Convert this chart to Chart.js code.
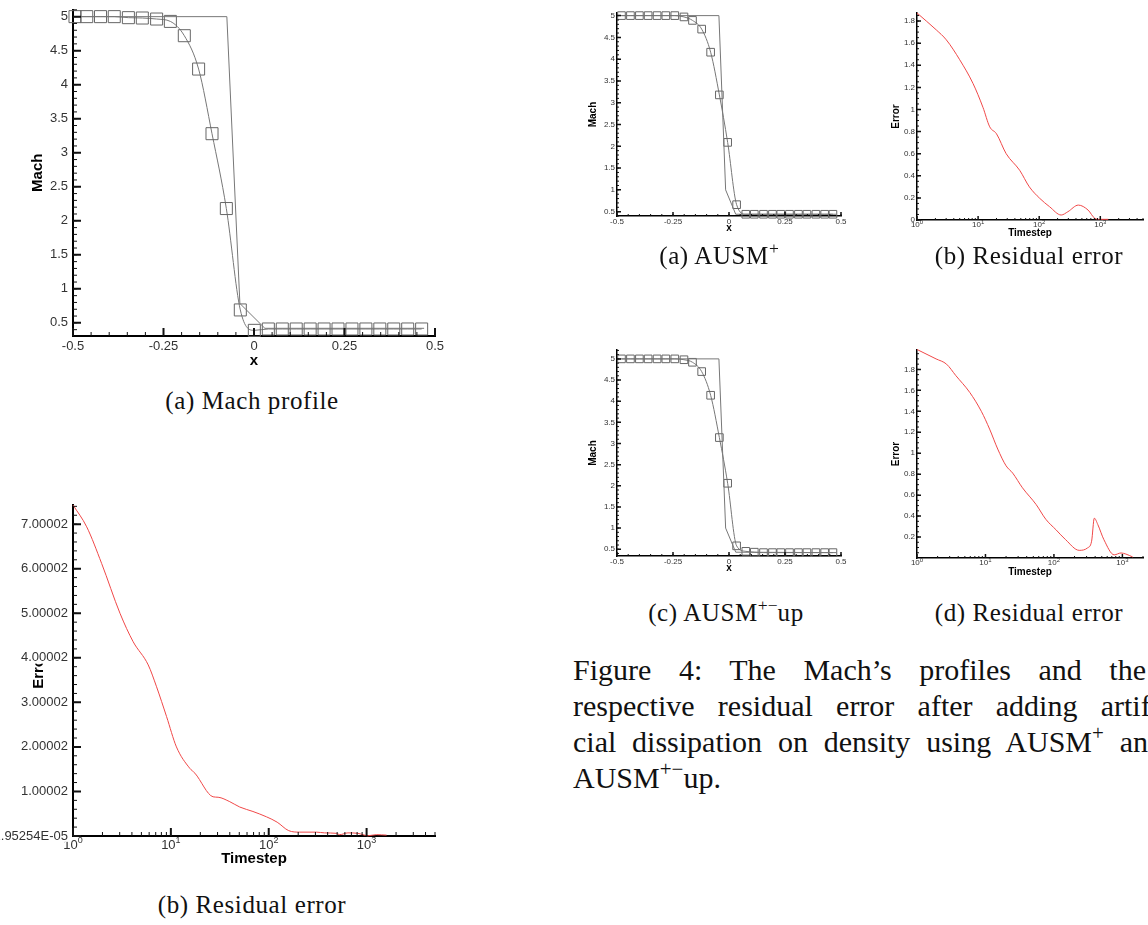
<!DOCTYPE html>
<html>
<head>
<meta charset="utf-8">
<script src="https://cdn.jsdelivr.net/npm/chart.js@4.4.0/dist/chart.umd.min.js"></script>
<style>
  html, body { margin: 0; padding: 0; background: #fff; }
  body { width: 1148px; height: 925px; position: relative; overflow: hidden; }
  canvas { position: absolute; }
  .cap {
    position: absolute; transform: translateX(-50%);
    font-family: "Liberation Serif", "Times New Roman", serif;
    font-size: 25px; letter-spacing: 0.6px; line-height: 1;
    white-space: nowrap; color: #111;
  }
  .cap sup, .para sup { font-size: 70%; vertical-align: baseline; position: relative; top: -0.55em; letter-spacing: 0; }
  .para {
    position: absolute; left: 573px;
    font-family: "Liberation Serif", "Times New Roman", serif;
    font-size: 30px; line-height: 1; color: #111;
    text-align: justify; text-align-last: justify;
  }
</style>
</head>
<body>
<canvas id="machBig"></canvas>
<canvas id="errBig"></canvas>
<canvas id="machAusm"></canvas>
<canvas id="errAusm"></canvas>
<canvas id="machUp"></canvas>
<canvas id="errUp"></canvas>

<div class="cap" style="left:252px; top:388px">(a) Mach profile</div>
<div class="cap" style="left:252px; top:892px">(b) Residual error</div>
<div class="cap" style="left:719px; top:243px">(a) AUSM<sup>+</sup></div>
<div class="cap" style="left:1029px; top:243px">(b) Residual error</div>
<div class="cap" style="left:726px; top:600px">(c) AUSM<sup>+−</sup>up</div>
<div class="cap" style="left:1029px; top:600px">(d) Residual error</div>

<div class="para" style="top:655px; width:573px">Figure 4: The Mach’s profiles and the</div>
<div class="para" style="top:691px; width:596px">respective residual error after adding artifi-</div>
<div class="para" style="top:727px; width:590px">cial dissipation on density using AUSM<sup>+</sup> and</div>
<div class="para" style="top:763px; text-align:left; text-align-last:left">AUSM<sup>+−</sup>up.</div>

<script>
// ---- data ----
// Mach profile, large plot: numerical points (squares) and the sharp profile
const machX = [-0.4945, -0.462, -0.424, -0.386, -0.347, -0.3085, -0.269, -0.231, -0.1925, -0.153, -0.116, -0.0764, -0.0378,
  0.0009, 0.0396, 0.0781, 0.1166, 0.1551, 0.1936, 0.2321, 0.2706, 0.3091, 0.3476, 0.3861, 0.4246, 0.4631];
const machY = [5.0, 5.0, 5.0, 5.0, 4.985, 4.98, 4.965, 4.93, 4.72, 4.23, 3.28, 2.18, 0.69,
  0.39, 0.41, 0.41, 0.41, 0.41, 0.41, 0.41, 0.41, 0.41, 0.41, 0.41, 0.41, 0.41];
const machExactX = [-0.5, -0.075, -0.039, 0.03, 0.47];
const machExactY = [5.0, 5.0, 0.785, 0.42, 0.42];

// residual history, large plot
const errSteps = [1, 1.38, 1.96, 3.02, 4.12, 5.87, 7.14, 9.04, 11.4, 15.6, 17.6, 27, 30.4, 40, 50.6, 69, 95, 122, 160,
  207, 307, 372, 490, 530, 645, 815, 918, 1025, 1260, 1600];
const errVals = [7.43, 6.94, 6.12, 5.00, 4.36, 3.84, 3.35, 2.68, 2.00, 1.52, 1.41, 0.88, 0.87, 0.77, 0.65, 0.55, 0.43, 0.31, 0.12,
  0.087, 0.087, 0.07, 0.06, 0.03, 0.07, 0.06, 0.03, 0.005, 0.03, 0.02];

// AUSM+ small plots
const gridX = [-0.48, -0.44, -0.40, -0.361, -0.321, -0.282, -0.242, -0.201, -0.163, -0.122, -0.082, -0.043, -0.006,
  0.034, 0.075, 0.113, 0.154, 0.194, 0.231, 0.27, 0.31, 0.348, 0.388, 0.427, 0.464];
const ausmY = [5.0, 5.0, 5.0, 5.0, 5.0, 5.0, 5.0, 4.97, 4.89, 4.69, 4.16, 3.18, 2.09,
  0.66, 0.44, 0.44, 0.44, 0.44, 0.44, 0.44, 0.44, 0.44, 0.44, 0.44, 0.44];
const ausmExactX = [-0.5, -0.045, -0.015, 0.03, 0.48];
const ausmExactY = [5.0, 5.0, 1.0, 0.44, 0.44];
const ausmErrSteps = [1, 2.07, 3.02, 5.0, 8.26, 12.0, 15.5, 20, 28.8, 47.9, 69, 102, 148, 229, 295, 437, 631, 813, 977, 1350];
const ausmErrVals = [1.873, 1.72, 1.63, 1.45, 1.235, 1.02, 0.843, 0.78, 0.60, 0.45, 0.30, 0.196, 0.12, 0.045, 0.075, 0.135, 0.09, 0.015, 0.006, 0.006];

// AUSM+-up small plots
const upY = [5.0, 5.0, 5.0, 5.0, 5.0, 5.0, 5.0, 4.98, 4.92, 4.70, 4.14, 3.14, 2.06,
  0.58, 0.45, 0.43, 0.42, 0.42, 0.42, 0.42, 0.42, 0.42, 0.42, 0.42, 0.42];
const upExactX = [-0.5, -0.045, -0.015, 0.03, 0.48];
const upExactY = [5.0, 5.0, 1.0, 0.43, 0.42];
const upErrSteps = [1, 1.9, 2.7, 3.7, 5.9, 8.7, 11.5, 15.1, 20, 25, 34.7, 55, 76, 107, 148, 234, 309, 355, 389, 437, 537, 759, 955, 1122, 1413];
const upErrVals = [1.99, 1.90, 1.85, 1.74, 1.58, 1.40, 1.23, 1.04, 0.88, 0.81, 0.67, 0.51, 0.37, 0.27, 0.175, 0.073, 0.096, 0.16, 0.38, 0.32, 0.175, 0.03, 0.048, 0.038, 0.01];

// tick values and labels
const xTicks = [-0.5, -0.25, 0, 0.25, 0.5];
const xTickLabels = ['-0.5', '-0.25', '0', '0.25', '0.5'];
const machTicks = [0.5, 1, 1.5, 2, 2.5, 3, 3.5, 4, 4.5, 5];
const machTickLabels = ['0.5', '1', '1.5', '2', '2.5', '3', '3.5', '4', '4.5', '5'];
const decadeTicks = [1, 10, 100, 1000];
const decadeExps = ['0', '1', '2', '3'];
const errBigTicks = [1.95254e-5, 1.0000195254, 2.0000195254, 3.0000195254, 4.0000195254, 5.0000195254, 6.0000195254, 7.0000195254];
const errBigTickLabels = ['1.95254E-05', '1.00002', '2.00002', '3.00002', '4.00002', '5.00002', '6.00002', '7.00002'];
const errTicks = [0, 0.2, 0.4, 0.6, 0.8, 1, 1.2, 1.4, 1.6, 1.8];
const errTickLabels = ['0', '0.2', '0.4', '0.6', '0.8', '1', '1.2', '1.4', '1.6', '1.8'];
const errUpTicks = [0.2, 0.4, 0.6, 0.8, 1, 1.2, 1.4, 1.6, 1.8];
const errUpTickLabels = ['0.2', '0.4', '0.6', '0.8', '1', '1.2', '1.4', '1.6', '1.8'];

// ---- helpers ----
const SANS = '"Liberation Sans", Arial, sans-serif';
const GRAY = '#777';
const RED = '#f04848';

const pts = (xs, ys) => xs.map((x, i) => ({ x: x, y: ys[i] }));

function stepsFrom(start, end, step) {
  const out = [];
  for (let k = 0; start + k * step <= end + 1e-9; k++) out.push(start + k * step);
  return out;
}
function logMinors(max) {
  const out = [];
  for (let d = 1; d <= 1000; d *= 10)
    for (let k = 2; k <= 9; k++) if (k * d <= max) out.push(k * d);
  return out;
}

// inward tick marks (Tecplot style), 10^n labels on log axes,
// and boxed y labels where they sit on top of the axis title
const tecAxes = {
  id: 'tecAxes',
  afterDraw(chart, args, o) {
    const { ctx, chartArea: a } = chart;
    const sx = chart.scales.x, sy = chart.scales.y;
    ctx.save();
    ctx.strokeStyle = '#111';
    const marks = (scale, vals, len, w, horiz) => {
      ctx.lineWidth = w;
      ctx.beginPath();
      vals.forEach(v => {
        const p = scale.getPixelForValue(v);
        if (horiz) {
          if (p < a.left - 0.5 || p > a.right + 0.5) return;
          ctx.moveTo(p, a.bottom); ctx.lineTo(p, a.bottom - len);
        } else {
          if (p < a.top - 0.5 || p > a.bottom + 0.5) return;
          ctx.moveTo(a.left, p); ctx.lineTo(a.left + len, p);
        }
      });
      ctx.stroke();
    };
    marks(sx, o.xMinor, o.minorLen, 1, true);
    marks(sx, o.xMajor, o.majorLen, o.majorW, true);
    marks(sy, o.yMinor, o.minorLen, 1, false);
    marks(sy, o.yMajor, o.majorLen, o.majorW, false);

    const fs = o.fontSize;
    if (o.exps) {
      const es = Math.round(fs * 0.7);
      ctx.fillStyle = '#333';
      ctx.textBaseline = 'middle';
      ctx.textAlign = 'left';
      o.xMajor.forEach((v, i) => {
        const px = sx.getPixelForValue(v);
        ctx.font = fs + 'px ' + SANS;
        const w1 = ctx.measureText('10').width;
        ctx.font = es + 'px ' + SANS;
        const w2 = ctx.measureText(o.exps[i]).width;
        const x0 = px - (w1 + w2) / 2;
        const y0 = a.bottom + o.expGap;
        ctx.font = fs + 'px ' + SANS;
        ctx.fillText('10', x0, y0);
        ctx.font = es + 'px ' + SANS;
        ctx.fillText(o.exps[i], x0 + w1, y0 - fs * 0.38);
      });
    }
    if (o.yLabels) {
      ctx.font = fs + 'px ' + SANS;
      ctx.textAlign = 'right';
      ctx.textBaseline = 'middle';
      o.yMajor.forEach((v, i) => {
        const py = sy.getPixelForValue(v);
        const xr = a.left - o.yGap;
        const w = ctx.measureText(o.yLabels[i]).width;
        ctx.fillStyle = '#fff';
        ctx.fillRect(xr - w - 1, py - fs * 0.45, w + 1, fs * 0.9);
        ctx.fillStyle = '#333';
        ctx.fillText(o.yLabels[i], xr, py);
      });
    }
    ctx.restore();
  }
};

function makePanel(id, p) {
  const cv = document.getElementById(id);
  cv.width = p.w; cv.height = p.h;
  cv.style.left = p.left + 'px';
  cv.style.top = p.top + 'px';

  const axis = (ax, isX) => ({
    type: ax.log ? 'logarithmic' : 'linear',
    min: ax.min, max: ax.max,
    border: { display: true, color: '#000', width: p.aw },
    grid: { display: false, drawTicks: false },
    ticks: {
      display: !ax.log && !ax.boxed,
      autoSkip: false, maxRotation: 0, minRotation: 0,
      padding: isX ? p.xpad : p.ypad,
      font: { family: SANS, size: p.fs },
      color: '#333',
      callback: (v, i) => ax.labels ? ax.labels[i] : ''
    },
    title: {
      display: true, text: ax.title, color: '#000', padding: 0,
      font: { family: SANS, size: p.ts, weight: 'bold' }
    },
    afterBuildTicks: s => { s.ticks = ax.ticks.map(v => ({ value: v })); },
    afterFit: s => {
      if (isX) s.height = p.xh; else s.width = p.yw;
      s.paddingLeft = s.paddingRight = s.paddingTop = s.paddingBottom = 0;
    }
  });

  return new Chart(cv, {
    type: 'line',
    data: { datasets: p.datasets },
    plugins: [tecAxes],
    options: {
      responsive: false,
      devicePixelRatio: 1,
      animation: false,
      events: [],
      layout: { padding: p.pad },
      scales: { x: axis(p.x, true), y: axis(p.y, false) },
      plugins: {
        legend: { display: false },
        tooltip: { enabled: false },
        tecAxes: {
          xMajor: p.x.ticks, xMinor: p.x.minor,
          yMajor: p.y.ticks, yMinor: p.y.minor,
          majorLen: p.majorLen, minorLen: p.minorLen, majorW: p.majorW,
          exps: p.x.log ? decadeExps : null,
          yLabels: p.y.boxed ? p.y.labels : null, yGap: p.ypad,
          fontSize: p.fs, expGap: p.expGap
        }
      }
    }
  });
}

function exactLine(xs, ys) {
  return { data: pts(xs, ys), borderColor: GRAY, borderWidth: 1, pointRadius: 0, tension: 0, clip: 6 };
}
function squareLine(xs, ys, r) {
  return {
    data: pts(xs, ys), borderColor: GRAY, borderWidth: 1,
    cubicInterpolationMode: 'monotone',
    pointStyle: 'rect', pointRadius: r, pointBorderWidth: 1,
    pointBorderColor: '#666', pointBackgroundColor: 'rgba(0,0,0,0)', clip: 12
  };
}
function errLine(xs, ys) {
  return { data: pts(xs, ys), borderColor: RED, borderWidth: 1, pointRadius: 0, cubicInterpolationMode: 'monotone', clip: 4 };
}

const big = { fs: 13, ts: 15, aw: 2, majorLen: 8, minorLen: 4, majorW: 2, xpad: 3, ypad: 5, expGap: 9 };
const small = { fs: 8, ts: 10, aw: 1.5, majorLen: 4, minorLen: 2, majorW: 1.5, xpad: 1, ypad: 2, expGap: 5 };

// (a) Mach profile
makePanel('machBig', Object.assign({}, big, {
  left: 0, top: 0, w: 460, h: 370,
  pad: { left: 29, top: 4, right: 25, bottom: 0 }, yw: 44, xh: 34,
  x: { min: -0.5, max: 0.5, ticks: xTicks, labels: xTickLabels, minor: stepsFrom(-0.5, 0.5, 0.05), title: 'x' },
  y: { min: 0.307, max: 5.105, ticks: machTicks, labels: machTickLabels, minor: stepsFrom(0.4, 5.1, 0.1), title: 'Mach' },
  datasets: [exactLine(machExactX, machExactY), squareLine(machX, machY, 8.5)]
}));

// (b) residual error
makePanel('errBig', Object.assign({}, big, {
  left: 0, top: 480, w: 460, h: 388,
  pad: { left: 30, top: 25, right: 25, bottom: 0 }, yw: 43, xh: 32,
  x: { log: true, min: 1, max: 5000, ticks: decadeTicks, minor: logMinors(5000), title: 'Timestep' },
  y: { min: 1.95254e-5, max: 7.43, ticks: errBigTicks, labels: errBigTickLabels, minor: stepsFrom(1.95254e-5, 7.43, 0.2), title: 'Error', boxed: true },
  datasets: [errLine(errSteps, errVals)]
}));

// AUSM+ Mach
makePanel('machAusm', Object.assign({}, small, {
  left: 580, top: 0, w: 280, h: 240,
  pad: { left: 7, top: 13, right: 19, bottom: 6 }, yw: 30, xh: 18,
  x: { min: -0.5, max: 0.5, ticks: xTicks, labels: xTickLabels, minor: stepsFrom(-0.5, 0.5, 0.05), title: 'x' },
  y: { min: 0.40, max: 5.06, ticks: machTicks, labels: machTickLabels, minor: stepsFrom(0.4, 5.0, 0.1), title: 'Mach' },
  datasets: [exactLine(ausmExactX, ausmExactY), squareLine(gridX, ausmY, 5.4)]
}));

// AUSM+ residual
makePanel('errAusm', Object.assign({}, small, {
  left: 870, top: 0, w: 278, h: 245,
  pad: { left: 20, top: 13, right: 5, bottom: 6 }, yw: 27, xh: 19,
  x: { log: true, min: 1, max: 5000, ticks: decadeTicks, minor: logMinors(5000), title: 'Timestep' },
  y: { min: 0, max: 1.873, ticks: errTicks, labels: errTickLabels, minor: stepsFrom(0, 1.87, 0.05), title: 'Error' },
  datasets: [errLine(ausmErrSteps, ausmErrVals)]
}));

// AUSM+-up Mach
makePanel('machUp', Object.assign({}, small, {
  left: 580, top: 330, w: 280, h: 250,
  pad: { left: 7, top: 20, right: 19, bottom: 6 }, yw: 30, xh: 18,
  x: { min: -0.5, max: 0.5, ticks: xTicks, labels: xTickLabels, minor: stepsFrom(-0.5, 0.5, 0.05), title: 'x' },
  y: { min: 0.34, max: 5.21, ticks: machTicks, labels: machTickLabels, minor: stepsFrom(0.4, 5.2, 0.1), title: 'Mach' },
  datasets: [exactLine(upExactX, upExactY), squareLine(gridX, upY, 5.4)]
}));

// AUSM+-up residual
makePanel('errUp', Object.assign({}, small, {
  left: 870, top: 330, w: 278, h: 250,
  pad: { left: 20, top: 20, right: 5, bottom: 2 }, yw: 27, xh: 20,
  x: { log: true, min: 1, max: 2000, ticks: decadeTicks, minor: logMinors(2000), title: 'Timestep' },
  y: { min: 0, max: 1.985, ticks: errUpTicks, labels: errUpTickLabels, minor: stepsFrom(0.05, 1.95, 0.05), title: 'Error' },
  datasets: [errLine(upErrSteps, upErrVals)]
}));
</script>
</body>
</html>
